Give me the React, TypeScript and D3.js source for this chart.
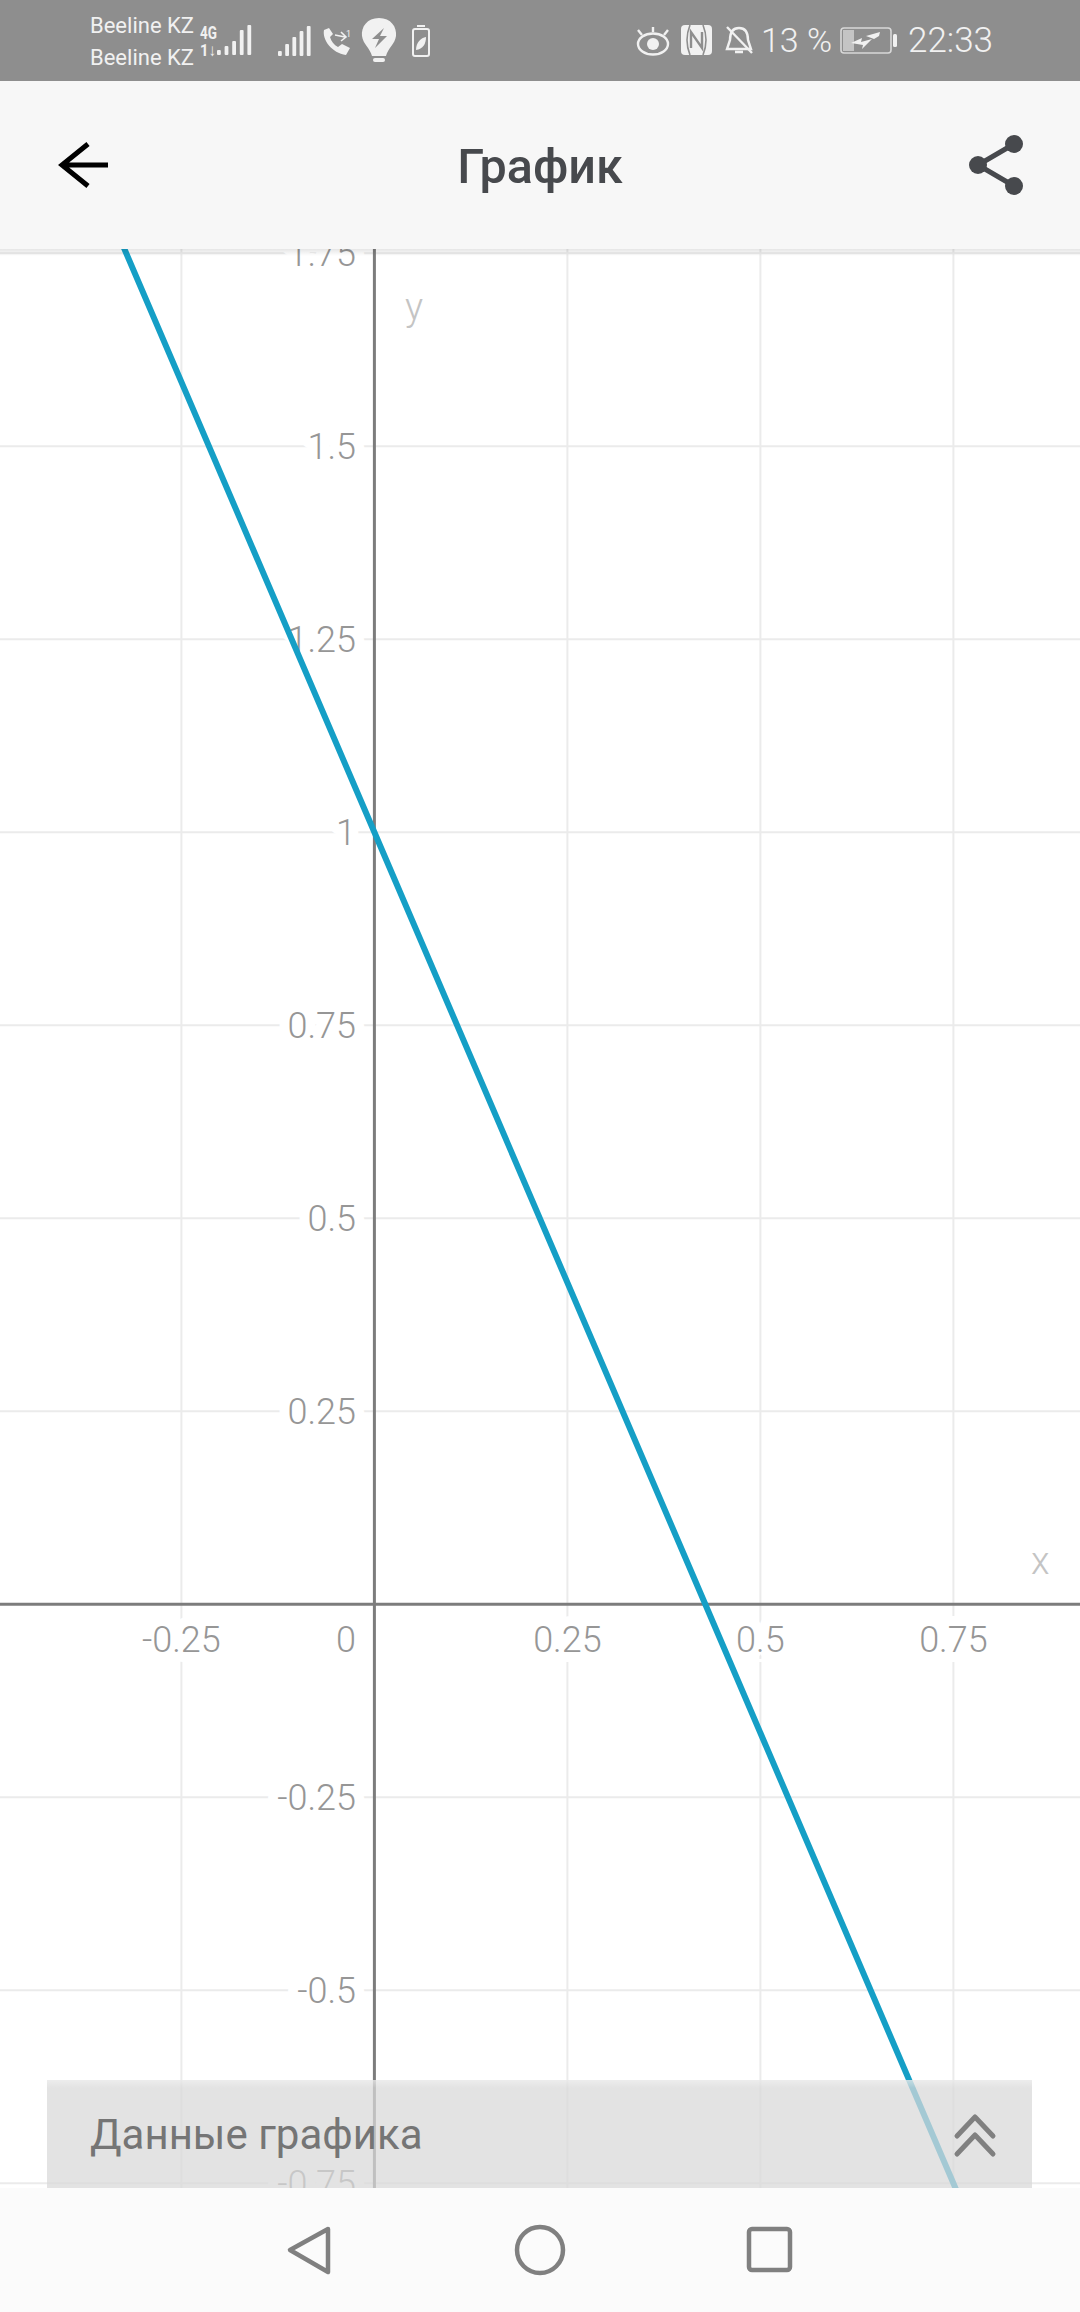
import React from "react";
import * as d3 from "d3";

const xTicks = [-0.25, 0.25, 0.5, 0.75];
const yTicks = [1.75, 1.5, 1.25, 1, 0.75, 0.5, 0.25, -0.25, -0.5, -0.75];
const lineXs = [-0.45, 0, 0.4286, 0.9];
const lineYs = [2.05, 1, 0, -1.1];

const title = "График";
const panelTitle = "Данные графика";
const carriers = ["Beeline KZ", "Beeline KZ"];
const signalLeft = [5, 9, 14, 25, 30];
const signalRight = [5, 12, 19, 25, 30];

const WIDTH = 1080;
const HEIGHT = 2312;
const FONT = "Roboto, sans-serif";

const x = d3.scaleLinear().domain([0, 0.25]).range([374.4, 567.4]);
const y = d3.scaleLinear().domain([0, 0.25]).range([1604.3, 1411.3]);

const fmt = (v: number) => String(v);

const StatusBar = () => {
  const ink = "#f1f1f1";
  return (
    <g>
      <rect width={WIDTH} height={81} fill="#8e8e8e" />
      {carriers.map((c, i) => (
        <text key={i} x={90} y={33 + i * 31.5} fontFamily={FONT} fontSize={22} fill={ink}>{c}</text>
      ))}
      <text x={200} y={39} fontFamily={FONT} fontSize={18} fontWeight={700} fill={ink} textLength={17} lengthAdjust="spacingAndGlyphs">4G</text>
      <text x={200} y={56} fontFamily={FONT} fontSize={17} fontWeight={700} fill={ink} textLength={16} lengthAdjust="spacingAndGlyphs">1↓</text>
      {signalLeft.map((h, i) => (
        <rect key={i} x={217 + i * 7.6} y={55 - h} width={3.8} height={h} rx={1} fill={ink} />
      ))}
      {signalRight.map((h, i) => (
        <rect key={i} x={278 + i * 7.2} y={56 - h} width={3.8} height={h} rx={1} fill={ink} />
      ))}
      {/* phone */}
      <path d="M324 30 C322 40 332 53 346 55 L350 48 L342 44 L338 47 C334 45 331 41 330 37 L333 34 L329 28 Z" fill={ink} />
      <path d="M335 35 L345 37 M341 32 L346 37 L341 41" fill="none" stroke={ink} strokeWidth={1.6} />
      <text x={346} y={37} fontFamily={FONT} fontSize={9} fill={ink}>1</text>
      {/* bulb */}
      <path d="M379 18 C391 18 397 27 396 36 C395 44 388 48 386 56 L372 56 C370 48 363 44 362 36 C361 27 367 18 379 18 Z" fill={ink} />
      <rect x={373} y={58} width={12} height={4} rx={2} fill={ink} />
      <path d="M384 28 L372 39 L379 39 L375 48 L387 36 L380 36 Z" fill="#8e8e8e" />
      {/* power saving battery */}
      <rect x={413} y={29} width={16} height={27} rx={2} fill="none" stroke={ink} strokeWidth={2} />
      <rect x={417} y={25} width={8} height={2} fill={ink} />
      <path d="M416 50 C416 42 421 38 426 37 C426 44 423 49 416 50 Z" fill={ink} />
      {/* eye */}
      <ellipse cx={653} cy={44} rx={15} ry={10.5} fill="none" stroke={ink} strokeWidth={2.4} />
      <circle cx={653} cy={44} r={6} fill={ink} />
      <path d="M638 30 L642 35 M668 30 L664 35 M653 27 L653 32" stroke={ink} strokeWidth={2.4} />
      {/* nfc */}
      <rect x={681} y={25} width={31} height={30} rx={4} fill={ink} />
      <path d="M690 25 C686 35 686 45 690 55 M703 25 C707 35 707 45 703 55" fill="none" stroke="#8e8e8e" strokeWidth={1.6} />
      <path d="M691 48 L691 32 L702 48 L702 32" fill="none" stroke="#8e8e8e" strokeWidth={2.4} />
      {/* muted bell */}
      <path d="M739 28 C746 28 748 34 748 40 L751 49 L727 49 L730 40 C730 34 732 28 739 28 Z M735 52 L743 52" fill="none" stroke={ink} strokeWidth={2.4} />
      <path d="M727 27 L752 53" stroke={ink} strokeWidth={2.4} />
      <text x={761} y={52} fontFamily={FONT} fontSize={34} fontWeight={300} fill={ink}>13 %</text>
      {/* charging battery */}
      <rect x={841} y={28} width={50} height={25} rx={3} fill="none" stroke="#d8d8d8" strokeWidth={1.6} />
      <rect x={843} y={30} width={11} height={21} fill="#c4c4c4" />
      <rect x={893} y={34} width={4} height={13} rx={1.5} fill={ink} />
      <path d="M851 43 L862 38 L861 42 L872 39 L862 49 L863 45 Z M866 36 L880 32 L879 36 L874 39 Z" fill={ink} />
      <text x={908} y={52} fontFamily={FONT} fontSize={35} fontWeight={300} fill={ink}>22:33</text>
    </g>
  );
};

const Header = () => (
  <g>
    <rect y={81} width={WIDTH} height={168} fill="#f7f7f7" />
    <rect y={249} width={WIDTH} height={7} fill="url(#headerShadow)" />
    <path d="M88 144 L62 165 L88 186 M62 165 L108 165" fill="none" stroke="#000" strokeWidth={5} />
    <text x={540} y={183} textAnchor="middle" fontFamily={FONT} fontSize={48.5} fontWeight={500} fill="#47494d">{title}</text>
    <path d="M1014 144 L978 165 L1014 186" fill="none" stroke="#47494d" strokeWidth={5} />
    <circle cx={1014} cy={144} r={9} fill="#47494d" />
    <circle cx={978} cy={165} r={9} fill="#47494d" />
    <circle cx={1014} cy={186} r={9} fill="#47494d" />
  </g>
);

const Panel = () => (
  <g>
    <rect x={47} y={2080} width={985} height={108} fill="#d9d9d9" fillOpacity={0.735} />
    <rect x={47} y={2080} width={985} height={8} fill="url(#panelTop)" />
    <text x={90} y={2149} fontFamily={FONT} fontSize={42} fill="#757575">{panelTitle}</text>
    <path d="M957 2136 L975 2117 L993 2136 M957 2154 L975 2135 L993 2154" fill="none" stroke="#808080" strokeWidth={5} strokeLinecap="round" strokeLinejoin="round" />
  </g>
);

const NavBar = () => (
  <g fill="none" stroke="#808080" strokeWidth={4.5} strokeLinejoin="round">
    <rect y={2188} width={WIDTH} height={124} fill="#fbfbfb" stroke="none" />
    <path d="M328 2229 L290 2250 L328 2272 Z" />
    <circle cx={540} cy={2250} r={23} />
    <rect x={749} y={2229} width={41} height={41} rx={3} />
  </g>
);

export default function App() {
  const line = d3
    .line<number>()
    .x(d => x(d))
    .y((_, i) => y(lineYs[i]));

  const labelStyle = {
    fontFamily: FONT,
    fontSize: 36,
    fontWeight: 300,
    fill: "#969696",
    stroke: "#fff",
    strokeWidth: 20,
    strokeLinejoin: "round" as const,
    paintOrder: "stroke",
  };

  return (
    <svg
      width={WIDTH}
      height={HEIGHT}
      viewBox={`0 0 ${WIDTH} ${HEIGHT}`}
      style={{ position: "absolute", left: 0, top: 0, display: "block", background: "#fff" }}
    >
      <defs>
        <linearGradient id="headerShadow" x1="0" x2="0" y1="0" y2="1">
          <stop offset="0" stopColor="#000" stopOpacity={0.1} />
          <stop offset="1" stopColor="#000" stopOpacity={0} />
        </linearGradient>
        <linearGradient id="panelTop" x1="0" x2="0" y1="0" y2="1">
          <stop offset="0" stopColor="#fff" stopOpacity={0.35} />
          <stop offset="1" stopColor="#fff" stopOpacity={0} />
        </linearGradient>
      </defs>

      <g stroke="#ebebeb" strokeWidth={2}>
        {xTicks.map(t => (
          <line key={t} x1={x(t)} x2={x(t)} y1={249} y2={2188} />
        ))}
        {yTicks.map(t => (
          <line key={t} x1={0} x2={WIDTH} y1={y(t)} y2={y(t)} />
        ))}
      </g>

      {xTicks.map(t => (
        <text key={t} x={x(t)} y={y(0) + 47.5} textAnchor="middle" {...labelStyle}>{fmt(t)}</text>
      ))}
      <text x={356} y={y(0) + 47.5} textAnchor="end" {...labelStyle}>0</text>
      {yTicks.map(t => (
        <text key={t} x={356} y={y(t) + 12.5} textAnchor="end" {...labelStyle}>{fmt(t)}</text>
      ))}

      <g stroke="#7c7c7c" strokeWidth={3}>
        <line x1={x(0)} x2={x(0)} y1={249} y2={2188} />
        <line x1={0} x2={WIDTH} y1={y(0)} y2={y(0)} />
      </g>

      <text x={405} y={320} fontFamily={FONT} fontSize={38} fontWeight={300} fill="#c4c4c4">y</text>
      <text x={1031} y={1574} fontFamily={FONT} fontSize={38} fontWeight={300} fill="#c4c4c4">x</text>

      <path d={line(lineXs) ?? ""} fill="none" stroke="#159fc6" strokeWidth={6} />

      <Panel />
      <NavBar />
      <Header />
      <StatusBar />
    </svg>
  );
}
